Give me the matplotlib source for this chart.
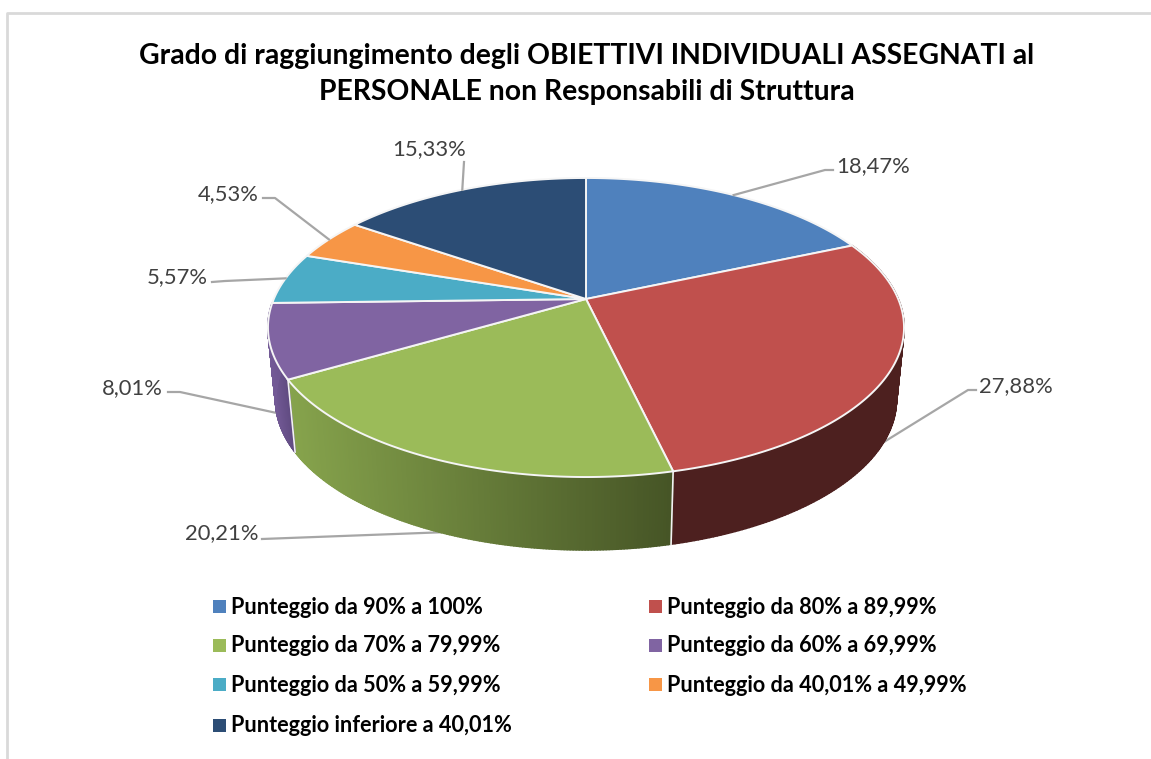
import numpy as np
import matplotlib
matplotlib.use('Agg')
import matplotlib.pyplot as plt
from matplotlib.patches import Polygon, Rectangle
from matplotlib.collections import PolyCollection
from matplotlib.colors import LinearSegmentedColormap

plt.rcParams['font.family'] = ['Lato', 'DejaVu Sans']

TITLE = 'Grado di raggiungimento degli OBIETTIVI INDIVIDUALI ASSEGNATI al\nPERSONALE non Responsabili di Struttura'
categories = ['Punteggio da 90% a 100%', 'Punteggio da 80% a 89,99%',
              'Punteggio da 70% a 79,99%', 'Punteggio da 60% a 69,99%',
              'Punteggio da 50% a 59,99%', 'Punteggio da 40,01% a 49,99%',
              'Punteggio inferiore a 40,01%']
values = [18.47, 27.88, 20.21, 8.01, 5.57, 4.53, 15.33]
colors = ['#4f81bd', '#c0504d', '#9bbb59', '#8064a2', '#4bacc6', '#f79646', '#2c4d75']
wall_left = ['#3a5f8c', '#4d201f', '#86a34c', '#735a96', '#38808f', '#b86f33', '#203a58']
wall_right = ['#3a5f8c', '#4d201f', '#465526', '#5f4a80', '#38808f', '#b86f33', '#203a58']

# where the label sits and where its leader bends
label_pos = [(873, 166), (1016, 386), (222, 533), (132, 388), (177, 277), (228, 194), (429, 149)]
elbows = [[(833, 170), (825, 170)], [(976, 390), (968, 390)], [(262, 539)],
          [(168, 392), (180, 392)], [(212, 282), (225, 281)], [(263, 198), (275, 198)], [(464, 162)]]
on_wall = [False, True, True, True, False, False, False]
front_walls = [1, 2, 3]

legend_x = [213, 649]
legend_y = [607, 646, 685, 726]

# pie geometry, in pixels
CX, CY = 586, 299
R0 = 312.2
A, C = -87.1, 0.1906
WALL_SX, WALL_K, WALL_Y = 0.976, 1.005, 371


def top_edge(pct):
    t = np.radians(np.asarray(pct) * 3.6)
    u, v = np.sin(t), np.cos(t)
    den = 1 + C * v
    return CX + R0 * u / den, (A * v + CY) / den


def low_edge(pct):
    x, y = top_edge(pct)
    return CX + (x - CX) * WALL_SX, WALL_Y + (y - CY) * WALL_K


def graph():
    fig = plt.figure(figsize=(11.51, 7.59), dpi=100)
    ax = fig.add_axes([0, 0, 1, 1])

    # frame of the chart, cut by the picture on the right and at the bottom
    ax.plot([7.5, 7.5, 1151], [759, 12.5, 12.5], color='#d9d9d9', lw=2)

    ax.text(587, 74, TITLE, ha='center', va='center', fontsize=20.4, fontweight='bold',
            color='black', linespacing=1.52)

    edges = np.concatenate([[0], np.cumsum(values)])
    edges = edges / edges[-1] * 100

    # side walls first, the top faces hide what is behind
    for i in front_walls:
        p = np.linspace(edges[i], edges[i + 1], 160)
        xt, yt = top_edge(p)
        xl, yl = low_edge(p)
        quads = []
        mids = []
        for j in range(len(p) - 1):
            quads.append([(xt[j], yt[j]), (xt[j + 1], yt[j + 1]), (xl[j + 1], yl[j + 1]), (xl[j], yl[j])])
            mids.append((xl[j] + xl[j + 1]) / 2)
        mids = np.array(mids)
        cmap = LinearSegmentedColormap.from_list('w', [wall_left[i], wall_right[i]])
        shade = cmap((mids - mids.min()) / max(np.ptp(mids), 1))
        ax.add_collection(PolyCollection(quads, facecolors=shade, edgecolors=shade, linewidths=1.2, zorder=2))

    # white seams between the front walls
    for e in edges[2:4]:
        xt, yt = top_edge(e)
        xl, yl = low_edge(e)
        ax.plot([xt, xl], [yt, yl], color='#f2f2f2', lw=1.2, zorder=3)

    for i in range(len(values)):
        p = np.linspace(edges[i], edges[i + 1], 120)
        xt, yt = top_edge(p)
        pts = np.column_stack([np.r_[CX, xt], np.r_[CY, yt]])
        ax.add_patch(Polygon(pts, closed=True, fc=colors[i], ec='#f5f5f5', lw=1.4, zorder=4))

    # data labels with leaders
    for i, val in enumerate(values):
        mid = (edges[i] + edges[i + 1]) / 2
        ax_, ay_ = low_edge(mid) if on_wall[i] else top_edge(mid)
        xs = [q[0] for q in elbows[i]] + [ax_]
        ys = [q[1] for q in elbows[i]] + [ay_]
        ax.plot(xs, ys, color='#a6a6a6', lw=1.6, zorder=5 if not on_wall[i] else 1)
        ax.text(label_pos[i][0], label_pos[i][1], f'{val:.2f}%'.replace('.', ','),
                ha='center', va='center', fontsize=15.8, color='#404040', zorder=6)

    # legend, filled row by row
    for i, name in enumerate(categories):
        x = legend_x[i % 2]
        y = legend_y[i // 2]
        ax.add_patch(Rectangle((x, y - 7), 13, 13, fc=colors[i], ec='none'))
        ax.text(x + 18.5, y, name, ha='left', va='center', fontsize=15.6,
                fontweight='bold', color='black')

    ax.set_xlim(0, 1151)
    ax.set_ylim(759, 0)
    ax.axis('off')
    fig.savefig('out.png', dpi=100)


if __name__ == '__main__':
    graph()
